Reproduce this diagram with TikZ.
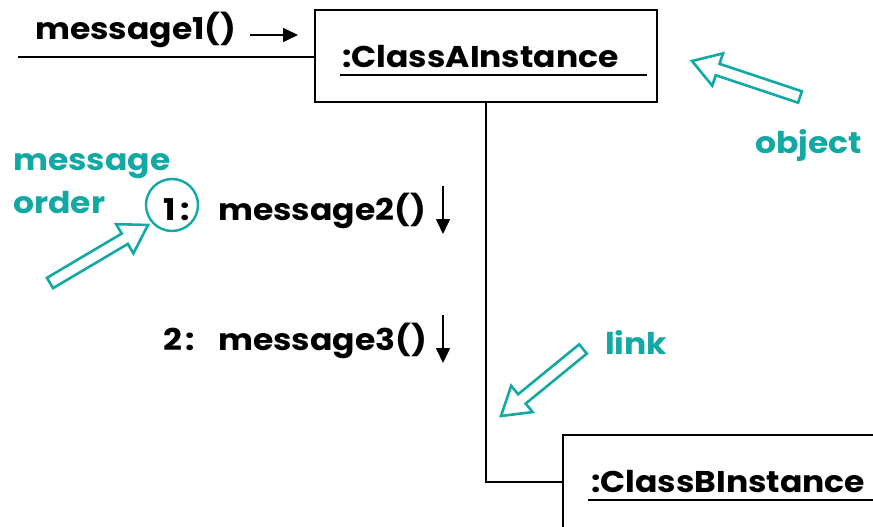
\documentclass[tikz,border=0pt]{standalone}
\usepackage{fontspec}
\setmainfont{Poppins}[FakeStretch=1.1]
\usetikzlibrary{calc,arrows.meta}
\definecolor{noteteal}{RGB}{18,168,164}
\tikzset{
  objbox/.style={draw, line width=1.8pt, inner sep=0pt},
  umltext/.style={font=\fontsize{30}{34}\selectfont\bfseries, inner sep=0pt, anchor=base west},
  notetext/.style={umltext, text=noteteal},
  msgarrow/.style={line width=1.6pt, -{Triangle[length=15pt,width=14pt]}},
  linkline/.style={line width=1.5pt},
  hollow/.style={draw=noteteal, line width=2.6pt, line join=miter, fill=white},
  ring/.style={draw=noteteal, line width=2.4pt, circle, minimum size=52pt, inner sep=0pt},
}
% hollow block arrow from tail #1 to tip #2
\newcommand\blockarrow[2]{%
  \coordinate (ba-n) at ($(#2)!27pt!(#1)$);
  \draw[hollow] ($(#1)!6pt!90:(#2)$) -- ($(ba-n)!6pt!90:(#2)$)
    -- ($(ba-n)!17pt!90:(#2)$) -- (#2) -- ($(ba-n)!17pt!-90:(#2)$)
    -- ($(ba-n)!6pt!-90:(#2)$) -- ($(#1)!6pt!-90:(#2)$) -- cycle;}
\begin{document}
\begin{tikzpicture}[x=1pt,y=-1pt]
\useasboundingbox (0,0) rectangle (873,527);

% objects
\node[objbox, minimum width=342pt, minimum height=92pt] (A) at (486,56) {};
\node[umltext] (alabel) at (342,67) {:ClassAInstance};
\draw[line width=1.6pt] ($(alabel.base west)+(-2,8)$) -- ++(307,0);

\node[objbox, minimum width=360pt, minimum height=150pt, anchor=north west] (B) at (562,434) {};
\node[umltext] (blabel) at (591,492) {:ClassBInstance};
\draw[line width=1.6pt] ($(blabel.base west)+(-3,8)$) -- ++(300,0);

% link between the objects
\draw[linkline] (A.south) |- ($(B.north west)+(0,48)$);

% incoming message
\coordinate (in) at (18,57);
\draw[linkline] (in) -- (in -| A.west);
\node[umltext] (m1) at (35,40) {message1()};
\coordinate (m1a) at (250,35);
\coordinate (m1b) at (298,35);
\draw[msgarrow] (m1a) -- (m1b);

% sequenced messages on the link
\node[umltext] (n1) at (163,220) {1\kern5pt:};
\node[umltext] (m2) at (218,220) {message2()};
\coordinate (m2a) at (443,186);
\coordinate (m2b) at (443,234);
\draw[msgarrow] (m2a) -- (m2b);

\node[umltext] (n2) at (163,350) {2\kern3pt:};
\node[umltext] (m3) at (218,350) {message3()};
\coordinate (m3a) at (443,315);
\coordinate (m3b) at (443,363);
\draw[msgarrow] (m3a) -- (m3b);

% annotations
\node[ring] (ord) at (172,205) {};
\node[notetext] (ordlabel1) at (13,170) {message};
\node[notetext] (ordlabel2) at (13,213) {order};
\coordinate (ordtail) at (50,283);
\coordinate (ordtip) at (148,225);
\blockarrow{ordtail}{ordtip}

\node[notetext] (objlabel) at (755,153) {object};
\coordinate (objtail) at (800,97);
\coordinate (objtip) at (692,61);
\blockarrow{objtail}{objtip}

\node[notetext] (linklabel) at (605,354) {link};
\coordinate (linktail) at (583,349);
\coordinate (linktip) at (501,416);
\blockarrow{linktail}{linktip}
\end{tikzpicture}
\end{document}
